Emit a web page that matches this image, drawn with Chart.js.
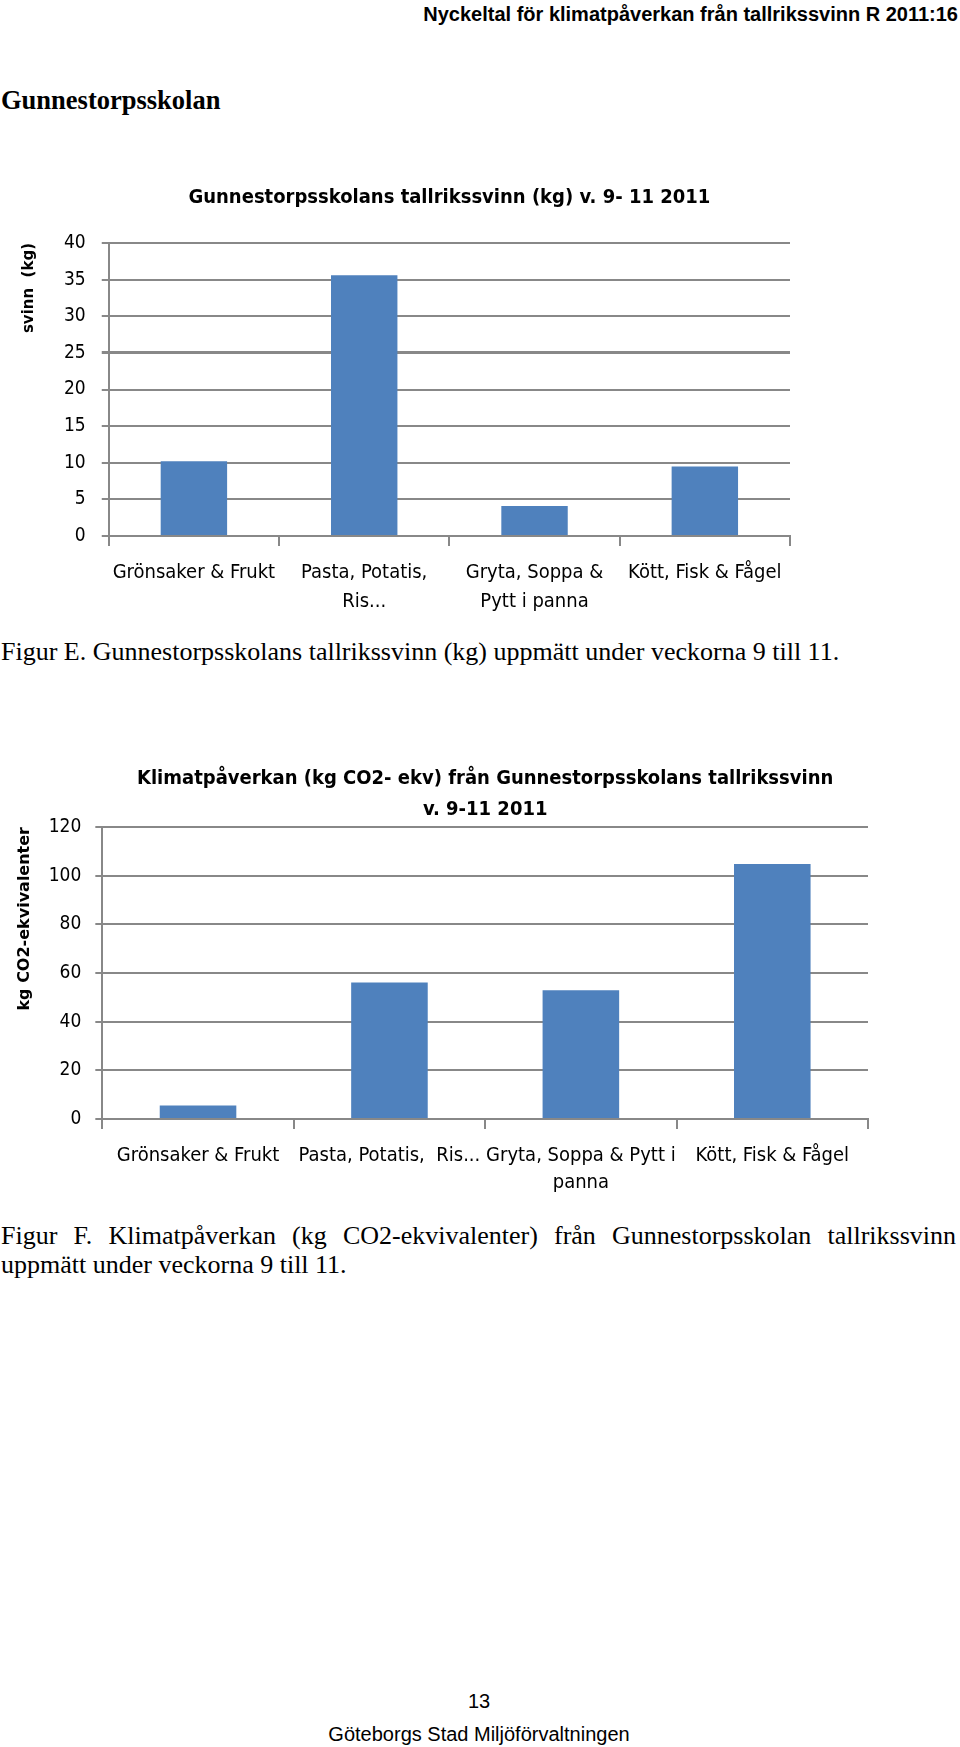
<!DOCTYPE html>
<html>
<head>
<meta charset="utf-8">
<script src="https://cdn.jsdelivr.net/npm/chart.js@4.4.0/dist/chart.umd.min.js"></script>
<style>
  html, body { margin: 0; padding: 0; background: #fff; }
  body { width: 960px; height: 1747px; position: relative; overflow: hidden; }
  .txt { position: absolute; white-space: nowrap; color: #000; line-height: 1; }
  .head { right: 2px; top: 3px; font: bold 20px "Liberation Sans Narrow", "Arial Narrow", "Liberation Sans", sans-serif; }
  .school { left: 1px; top: 85px; font: bold 26.5px "Liberation Serif", "Times New Roman", serif; }
  .caption { left: 1px; font: 26px "Liberation Serif", "Times New Roman", serif; line-height: 29px; }
  .just { width: 955px; text-align: justify; text-align-last: justify; }
  .foot { left: 0; width: 958px; text-align: center; font: 20px "Liberation Sans Narrow", "Arial Narrow", "Liberation Sans", sans-serif; }
  .box { position: absolute; }
</style>
</head>
<body>
<div class="txt head">Nyckeltal för klimatpåverkan från tallrikssvinn R 2011:16</div>
<div class="txt school">Gunnestorpsskolan</div>

<div class="box" id="boxE" style="left:0; top:172px; width:800px; height:456px;"><canvas id="chartE"></canvas></div>
<div class="txt caption" style="top:637px;">Figur E. Gunnestorpsskolans tallrikssvinn (kg) uppmätt under veckorna 9 till 11.</div>

<div class="box" id="boxF" style="left:0; top:752px; width:880px; height:458px;"><canvas id="chartF"></canvas></div>
<div class="txt caption" style="top:1221px;">
  <div class="just">Figur F. Klimatpåverkan (kg CO2-ekvivalenter) från Gunnestorpsskolan tallrikssvinn</div>
  <div>uppmätt under veckorna 9 till 11.</div>
</div>

<div class="txt foot" style="top:1690px;">13</div>
<div class="txt foot" style="top:1723px;">Göteborgs Stad Miljöförvaltningen</div>

<script>
// Figur E - tallrikssvinn (kg)
const categoriesE = [["Grönsaker & Frukt"], ["Pasta, Potatis,", "Ris..."], ["Gryta, Soppa &", "Pytt i panna"], ["Kött, Fisk & Fågel"]];
const wasteKg = [10.2, 35.6, 4.1, 9.5];
const yTicksE = [0, 5, 10, 15, 20, 25, 30, 35, 40];

// Figur F - klimatpåverkan (kg CO2-ekv)
const categoriesF = [["Grönsaker & Frukt"], ["Pasta, Potatis,  Ris..."], ["Gryta, Soppa & Pytt i", "panna"], ["Kött, Fisk & Fågel"]];
const co2Kg = [5.5, 56.1, 52.9, 104.8];
const yTicksF = [0, 20, 40, 60, 80, 100, 120];

const BAR = "#4f81bd";
const GRID = "#888888";
const CHART_FONT = '"Liberation Sans Narrow", "Arial Narrow", "DejaVu Sans Condensed", sans-serif';

function makeChart(canvasId, cfg) {
    return new Chart(document.getElementById(canvasId), {
        type: "bar",
        data: {
            labels: cfg.labels,
            datasets: [{
                data: cfg.values,
                backgroundColor: BAR,
                borderWidth: 0,
                categoryPercentage: 1,
                barPercentage: cfg.barPct,
            }],
        },
        options: {
            animation: false,
            responsive: true,
            maintainAspectRatio: false,
            layout: { padding: cfg.padding },
            plugins: {
                legend: { display: false },
                tooltip: { enabled: false },
                title: {
                    display: true,
                    fullSize: false, // centre over the plot area, as in the original
                    text: cfg.title,
                    color: "#000",
                    font: { family: CHART_FONT, size: 20, weight: "bold", lineHeight: 1.55 },
                    padding: cfg.titlePad,
                },
            },
            scales: {
                x: {
                    grid: { drawOnChartArea: false, drawTicks: true, tickLength: 10, color: GRID, lineWidth: 2 },
                    border: { display: true, color: GRID, width: 2 },
                    ticks: {
                        color: "#000",
                        padding: cfg.xPad,
                        maxRotation: 0,
                        autoSkip: false,
                        font: { family: CHART_FONT, size: 20, lineHeight: cfg.xLine },
                    },
                },
                y: {
                    min: cfg.ticks[0],
                    max: cfg.ticks[cfg.ticks.length - 1],
                    afterBuildTicks: axis => { axis.ticks = cfg.ticks.map(v => ({ value: v })); },
                    grid: {
                        color: GRID,
                        lineWidth: ctx => (cfg.thick !== undefined && ctx.tick && ctx.tick.value === cfg.thick) ? 3 : 2,
                        tickLength: 7,
                    },
                    border: { display: true, color: GRID, width: 2 },
                    ticks: {
                        color: "#000",
                        padding: cfg.yPad,
                        font: { family: CHART_FONT, size: 19 },
                    },
                    title: {
                        display: true,
                        text: cfg.yTitle,
                        align: "end",
                        color: "#000",
                        font: { family: '"DejaVu Sans", Verdana, sans-serif', size: cfg.yTitleSize, weight: "bold" },
                        padding: { top: 0, bottom: cfg.yTitlePad },
                    },
                },
            },
        },
    });
}

makeChart("chartE", {
    labels: categoriesE,
    values: wasteKg,
    ticks: yTicksE,
    thick: 25,
    barPct: 0.39,
    title: "Gunnestorpsskolans tallrikssvinn (kg) v. 9- 11 2011",
    titlePad: { top: 10, bottom: 30 },
    yTitle: "svinn  (kg)",
    yTitleSize: 15,
    yTitlePad: 10,
    yPad: 16,
    padding: { left: 20, right: 10, top: 0, bottom: 0 },
    xPad: 12,
    xLine: 1.45,
});

makeChart("chartF", {
    labels: categoriesF,
    values: co2Kg,
    ticks: yTicksF,
    barPct: 0.4,
    title: ["Klimatpåverkan (kg CO2- ekv) från Gunnestorpsskolans tallrikssvinn", "v. 9-11 2011"],
    titlePad: { top: 11, bottom: 2 },
    yTitle: "kg CO2-ekvivalenter",
    yTitleSize: 16,
    yTitlePad: 0.5,
    yPad: 14,
    padding: { left: 15, right: 12, top: 0, bottom: 0 },
    xPad: 13.5,
    xLine: 1.35,
});
</script>
</body>
</html>
